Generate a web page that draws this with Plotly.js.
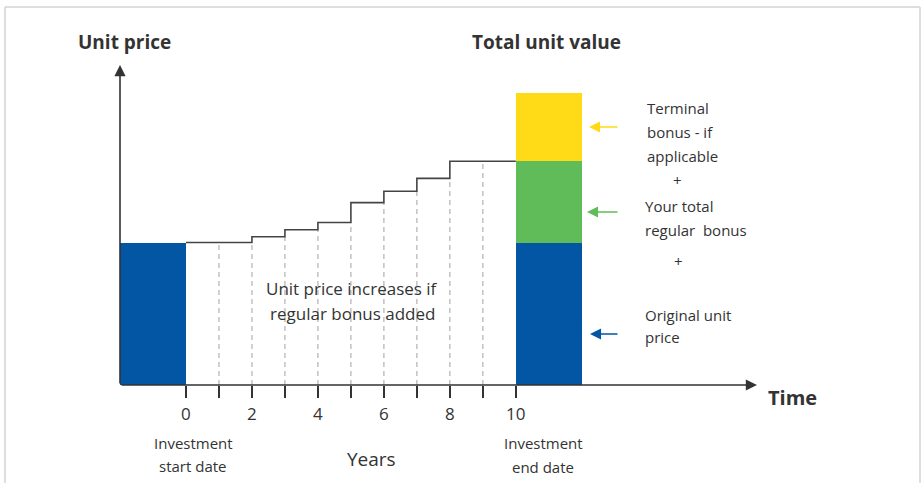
<!DOCTYPE html>
<html>
<head>
<meta charset="utf-8">
<script src="https://cdn.plot.ly/plotly-3.0.1.min.js"></script>
<style>html,body{margin:0;padding:0;background:#fff;}#chart{width:921px;height:483px;}</style>
</head>
<body>
<div id="chart"></div>
<script>
// ---- Data ----
const stepYears = [0, 2, 3, 4, 5, 6, 7, 8, 10];
const unitPrices = [100, 104, 109, 114, 128, 136, 145, 157, 157];
const dashYears = [1, 2, 3, 4, 5, 6, 7, 8, 9];
const originalPrice = 100;
const regularBonus = 57;
const terminalBonus = 48;
const tickVals = [0, 1, 2, 3, 4, 5, 6, 7, 8, 9, 10];
const tickText = ['0', '', '2', '', '4', '', '6', '', '8', '', '10'];

// ---- Layout geometry ----
const W = 921, H = 483;
const M = {l: 120, r: 164, t: 65, b: 98};
const PW = W - M.l - M.r, PH = H - M.t - M.b;
const px = p => (p - M.l) / PW;
const py = p => 1 - (p - M.t) / PH;
const TXT = '#333333';
const FONT = 'Open Sans, Noto Sans, sans-serif';
const BLUE = '#0256A3', GREEN = '#60BC58', YELLOW = '#FEDB16';

function priceAt(yr) {
  let v = unitPrices[0];
  for (let i = 0; i < stepYears.length; i++) if (stepYears[i] < yr) v = unitPrices[i];
  return v;
}
const dx = [], dy = [];
dashYears.forEach(yr => { dx.push(yr, yr, null); dy.push(0, priceAt(yr), null); });

const traces = [
  {type: 'bar', x: [-1, 11], y: [originalPrice, originalPrice], width: 2, marker: {color: BLUE, line: {width: 0}}, hoverinfo: 'skip'},
  {type: 'bar', x: [11], y: [regularBonus], width: 2, marker: {color: GREEN, line: {width: 0}}, hoverinfo: 'skip'},
  {type: 'bar', x: [11], y: [terminalBonus], width: 2, marker: {color: YELLOW, line: {width: 0}}, hoverinfo: 'skip'},
  {type: 'scatter', mode: 'lines', x: dx, y: dy, line: {color: '#bdbdbd', width: 1.4, dash: '5px,4px'}, hoverinfo: 'skip', connectgaps: false},
  {type: 'scatter', mode: 'lines', x: stepYears, y: unitPrices, line: {color: '#444', width: 1.6, shape: 'hv'}, hoverinfo: 'skip'}
];

function txt(text, x, y, size, opts) {
  return Object.assign({text: text, xref: 'paper', yref: 'paper', x: px(x), y: py(y), showarrow: false,
    xanchor: 'center', yanchor: 'middle', font: {family: FONT, size: size, color: TXT}}, opts || {});
}
function arrow(x1, y1, x0, y0, color, w, size) {
  return {text: '', xref: 'paper', yref: 'paper', x: px(x1), y: py(y1), ax: x0 - x1, ay: y0 - y1,
    axref: 'pixel', ayref: 'pixel', showarrow: true, arrowhead: 2, arrowsize: size, arrowwidth: w,
    arrowcolor: color, standoff: 0, startstandoff: 0};
}

const annotations = [
  arrow(757, 385, 120, 385, '#333', 1.6, 1.4),
  arrow(120, 65, 120, 385, '#333', 1.6, 1.4),
  arrow(589, 127, 619, 127, YELLOW, 1.7, 1.3),
  arrow(587, 212, 619, 212, GREEN, 1.7, 1.3),
  arrow(590, 334, 619, 334, BLUE, 1.7, 1.3),
  txt('<b>Unit price</b>', 124, 42, 19),
  txt('<b>Total unit value</b>', 546, 42, 19),
  txt('<b>Time</b>', 766, 397, 20, {xanchor: 'left'}),
  txt('Investment', 193, 443, 15),
  txt('start date', 193, 466, 15),
  txt('Investment', 543, 443, 15),
  txt('end date', 543, 467, 15),
  txt('Years', 371, 459, 19),
  txt('Unit price increases if', 352, 288, 17),
  txt('regular bonus added', 352, 313, 17),
  txt('Terminal', 645, 108, 15, {xanchor: 'left'}),
  txt('bonus - if', 645, 132, 15, {xanchor: 'left'}),
  txt('applicable', 645, 156, 15, {xanchor: 'left'}),
  txt('+', 677, 180, 15),
  txt('Your total', 643, 206, 15, {xanchor: 'left'}),
  txt('regular&nbsp; bonus', 643, 230, 15, {xanchor: 'left'}),
  txt('+', 678, 261, 15),
  txt('Original unit', 643, 315, 15, {xanchor: 'left'}),
  txt('price', 643, 337, 15, {xanchor: 'left'})
];

const border = '#d3d3d3';
const shapes = [
  {type: 'line', xref: 'paper', yref: 'paper', x0: px(5), x1: px(920), y0: py(7), y1: py(7), line: {color: border, width: 1.5}},
  {type: 'line', xref: 'paper', yref: 'paper', x0: px(5), x1: px(5), y0: py(7), y1: py(483), line: {color: border, width: 1.5}},
  {type: 'line', xref: 'paper', yref: 'paper', x0: px(920), x1: px(920), y0: py(7), y1: py(483), line: {color: border, width: 1.5}}
];

const layout = {
  width: W, height: H,
  margin: M,
  paper_bgcolor: '#fff', plot_bgcolor: '#fff',
  showlegend: false,
  barmode: 'stack', bargap: 0,
  font: {family: FONT, color: TXT},
  xaxis: {range: [-2, (757 - 185.7) / 33], showgrid: false, zeroline: false, showline: false,
    tickmode: 'array', tickvals: tickVals, ticktext: tickText, ticks: 'outside', ticklen: 12,
    tickwidth: 1.5, tickcolor: '#333', ticklabelstandoff: 2,
    tickfont: {family: FONT, size: 17, color: TXT}, fixedrange: true},
  yaxis: {range: [0, 320 / 1.425], showgrid: false, zeroline: false, showline: false,
    showticklabels: false, ticks: '', fixedrange: true},
  annotations: annotations,
  shapes: shapes
};

Plotly.newPlot('chart', traces, layout, {displayModeBar: false, staticPlot: true});
</script>
</body>
</html>
